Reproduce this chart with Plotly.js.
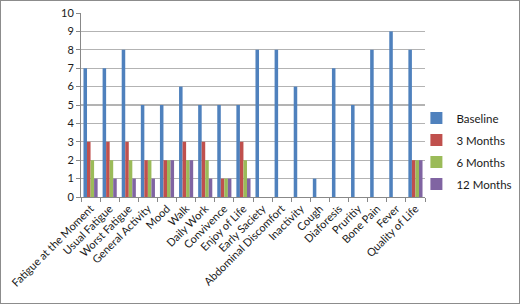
<!DOCTYPE html>
<html><head><meta charset="utf-8">
<script src="https://cdn.plot.ly/plotly-3.0.1.min.js"></script>
<style>html,body{margin:0;padding:0;background:#fff}#c{width:518px;height:302px;border:1px solid #8c8c8c}</style>
</head><body><div id="c"></div>
<script>
var categories = ["Fatigue at the Moment","Usual Fatigue","Worst Fatigue","General Activity","Mood","Walk","Daily Work","Convivence","Enjoy of Life","Early Saciety","Abdominal Discomfort","Inactivity","Cough","Diaforesis","Pruritiy","Bone Pain","Fever","Quality of Life"];
var baseline = [7,7,8,5,5,6,5,5,5,8,8,6,1,7,5,8,9,8];
var months3  = [3,3,3,2,2,3,3,1,3,0,0,0,0,0,0,0,0,2];
var months6  = [2,2,2,2,2,2,2,1,2,0,0,0,0,0,0,0,0,2];
var months12 = [1,1,1,1,2,2,1,1,1,0,0,0,0,0,0,0,0,2];
var seriesNames = ["Baseline","3 Months","6 Months","12 Months"];
var colors = ["#4F81BD","#C0504D","#9BBB59","#8064A2"];
var vals = [baseline, months3, months6, months12];
var data = vals.map(function(v,i){return {type:"bar",x:categories,y:v,name:seriesNames[i],legendgroup:"g"+i,marker:{color:colors[i]}};});
var layout = {
  width:518,height:302,
  margin:{l:80,r:94,t:12,b:106,autoexpand:false},
  paper_bgcolor:"#fff",plot_bgcolor:"#fff",
  font:{family:"Lato, 'Open Sans', sans-serif",size:11,color:"#1a1a1a"},
  barmode:"group",bargap:0.26,bargroupgap:0,
  showlegend:true,
  legend:{x:0.975,xanchor:"left",y:0.25,yanchor:"middle",font:{size:11.5},tracegroupgap:3,itemwidth:30,bgcolor:"rgba(0,0,0,0)"},
  xaxis:{tickangle:-45,tickson:"boundaries",ticks:"outside",ticklen:4,tickcolor:"#888",showline:true,linecolor:"#888",linewidth:1,tickfont:{size:11}},
  yaxis:{range:[0,10],dtick:1,ticks:"outside",ticklen:4,tickcolor:"#888",showline:true,linecolor:"#888",gridcolor:"#b3b3b3",gridwidth:1.2,zeroline:false,tickfont:{size:11}}
};
Plotly.newPlot("c",data,layout,{displayModeBar:false,staticPlot:true});
</script></body></html>
